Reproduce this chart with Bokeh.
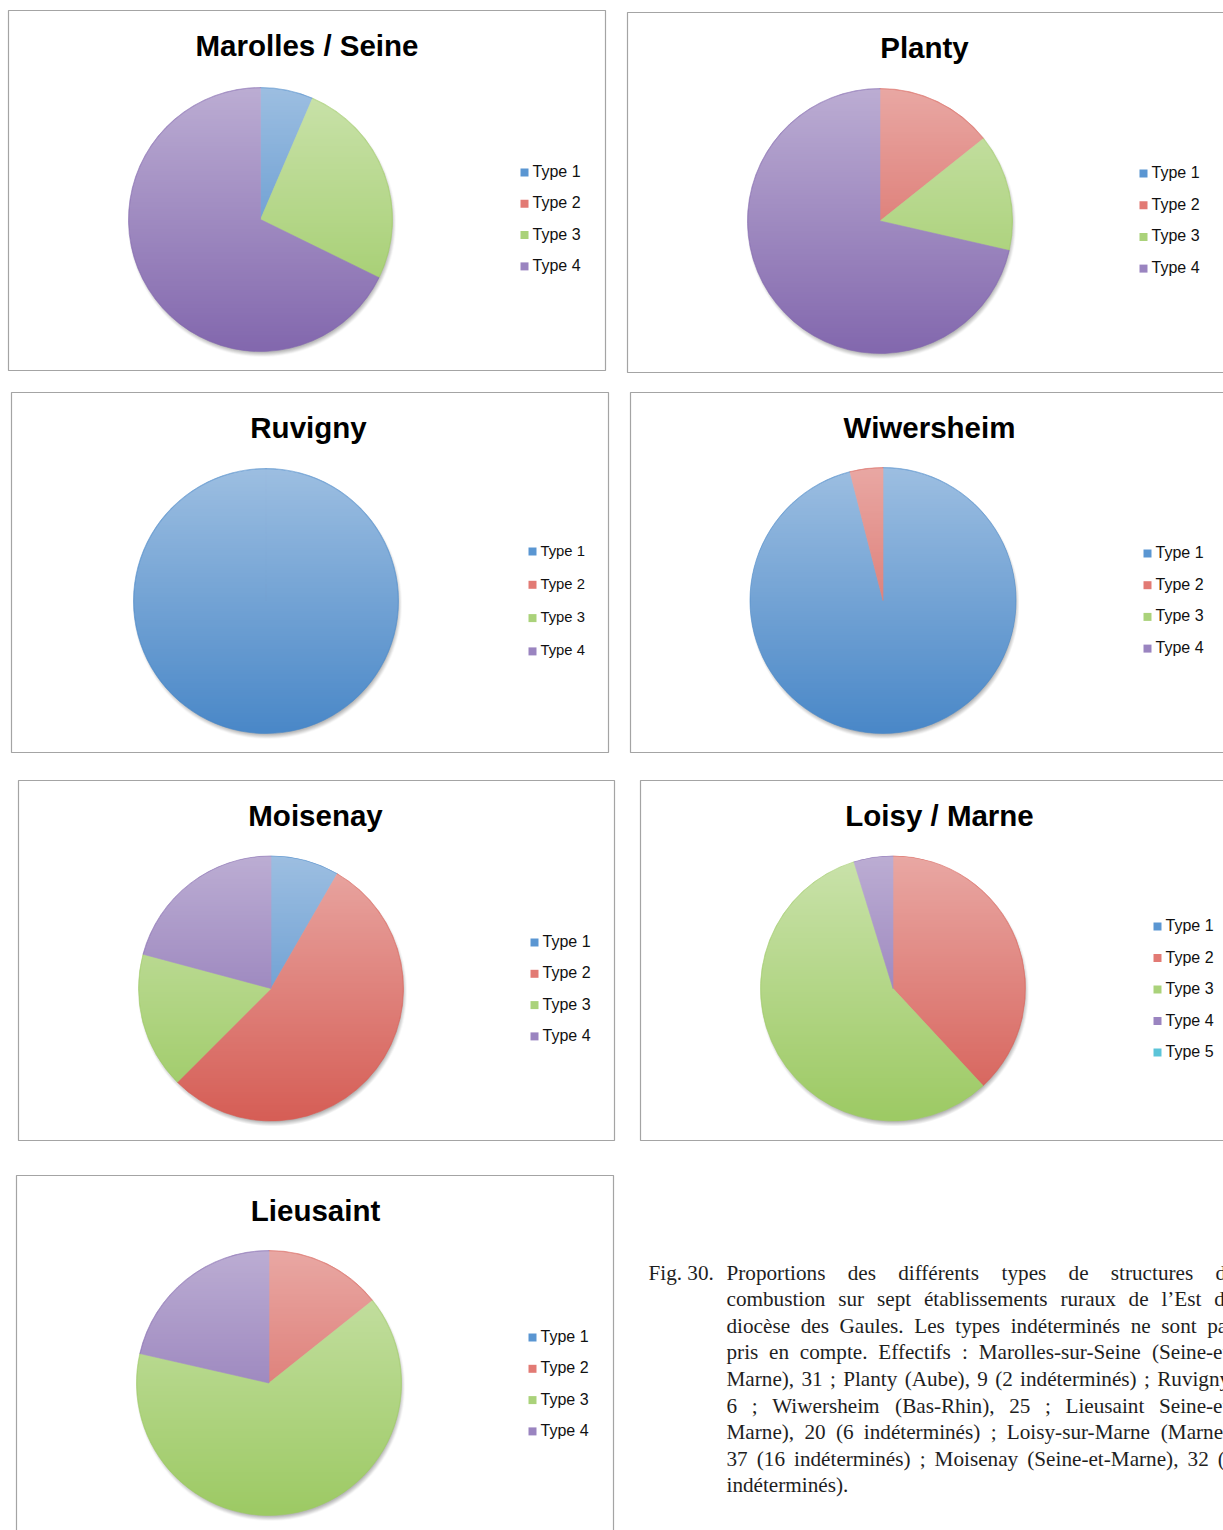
import numpy as np
from bokeh.plotting import figure
from bokeh.models import Range1d
from bokeh.core.properties import value
from bokeh.embed import file_html
from bokeh.resources import INLINE

# ---------------- data ----------------
sites = ["Marolles / Seine", "Planty", "Ruvigny", "Wiwersheim",
         "Moisenay", "Loisy / Marne", "Lieusaint"]
types4 = ["Type 1", "Type 2", "Type 3", "Type 4"]
types5 = ["Type 1", "Type 2", "Type 3", "Type 4", "Type 5"]
marolles = [2, 0, 8, 21]
planty = [0, 1, 1, 5]
ruvigny = [6, 0, 0, 0]
wiwersheim = [24, 1, 0, 0]
moisenay = [2, 13, 4, 5]
loisy = [0, 8, 12, 1, 0]
lieusaint = [0, 2, 9, 3]

caption_label = "Fig. 30."
caption_lines = [
    "Proportions des différents types de structures de",
    "combustion sur sept établissements ruraux de l’Est du",
    "diocèse des Gaules. Les types indéterminés ne sont pas",
    "pris en compte. Effectifs : Marolles-sur-Seine (Seine-et-",
    "Marne), 31 ; Planty (Aube), 9 (2 indéterminés) ; Ruvigny,",
    "6 ; Wiwersheim (Bas-Rhin), 25 ; Lieusaint Seine-et-",
    "Marne), 20 (6 indéterminés) ; Loisy-sur-Marne (Marne),",
    "37 (16 indéterminés) ; Moisenay (Seine-et-Marne), 32 (8",
    "indéterminés).",
]

# ---------------- styling / layout ----------------
base_rgb = [(74, 136, 200), (214, 94, 86), (157, 202, 100), (131, 104, 174), (75, 180, 205)]
legend_cols = ["#5A96D2", "#E27A74", "#AAD27A", "#9A84C0", "#5CC4D8"]

panels = [
    dict(title=sites[0], vals=marolles, labels=types4, box=(8, 10, 605, 370), c=(260, 219), r=132,
         tpos=(306.5, 45), leg=(524, 532, 172, 31.3, 16)),
    dict(title=sites[1], vals=planty, labels=types4, box=(627, 12, 1300, 372), c=(879.5, 220.5), r=132.5,
         tpos=(924, 47), leg=(1143, 1151, 173, 31.7, 16)),
    dict(title=sites[2], vals=ruvigny, labels=types4, box=(11, 392, 608, 752), c=(265.5, 600.5), r=132.5,
         tpos=(308, 427), leg=(532, 540, 551, 33.3, 14.8)),
    dict(title=sites[3], vals=wiwersheim, labels=types4, box=(630, 392, 1300, 752), c=(882.5, 600), r=133,
         tpos=(929, 427), leg=(1147, 1155, 553, 31.7, 16)),
    dict(title=sites[4], vals=moisenay, labels=types4, box=(18, 780, 614, 1140), c=(270.5, 988), r=132.5,
         tpos=(315, 815), leg=(534, 542, 942, 31.3, 16)),
    dict(title=sites[5], vals=loisy, labels=types5, box=(640, 780, 1300, 1140), c=(892.5, 988), r=132.5,
         tpos=(939, 815), leg=(1157, 1165, 926, 31.5, 16)),
    dict(title=sites[6], vals=lieusaint, labels=types4, box=(16, 1175, 613, 1600), c=(268.5, 1382.5), r=132.5,
         tpos=(315, 1210), leg=(532, 540, 1337, 31.3, 16)),
]

W, H = 1223, 1530
p = figure(width=W, height=H, output_backend="svg", toolbar_location=None,
           x_range=Range1d(0, W), y_range=Range1d(-H, 0),
           x_axis_location=None, y_axis_location=None, min_border=0)
p.grid.visible = False
p.outline_line_color = None
p.background_fill_color = "white"


def Y(py):
    return -py


def rgba_image(n, func):
    img = np.zeros((n, n), dtype=np.uint32)
    view = img.view(dtype=np.uint8).reshape((n, n, 4))
    r, g, b, a = func
    view[..., 0] = r
    view[..., 1] = g
    view[..., 2] = b
    view[..., 3] = np.clip(a * 255, 0, 255).astype(np.uint8)
    return img


for pn in panels:
    l, t, rr, b = pn["box"]
    p.quad(left=[l], right=[rr], top=[Y(t)], bottom=[Y(b)], fill_color=None,
           line_color="#A4A4A4", line_width=1.2)
    tx, ty = pn["tpos"]
    p.text(x=[tx], y=[Y(ty)], text=[pn["title"]], text_font=value("Liberation Sans"),
           text_font_style="bold", text_font_size="29.5px", text_align="center",
           text_baseline="middle", text_color="#000000")

    cx, cy = pn["c"]
    R = pn["r"]
    pad = 10
    n = int(round(2 * R + 2 * pad))
    x0 = cx - R - pad
    ytop = cy - R - pad
    jj = np.arange(n) + 0.5
    px = x0 + jj[None, :]
    py = (ytop + n) - jj[:, None]
    # soft shadow
    d2 = np.hypot(px - (cx + 1.5), py - (cy + 3.5))
    sh_a = 0.42 * np.clip((R + 2 - d2) / 5.0, 0, 1)
    sh = rgba_image(n, (80, 80, 80, sh_a))
    p.image_rgba(image=[sh], x=x0, y=Y(ytop + n), dw=n, dh=n)

    vals = np.array(pn["vals"], dtype=float)
    frac = vals / vals.sum()
    cum = np.concatenate([[0], np.cumsum(frac)])
    starts, ends, cols = [], [], []
    for i, f in enumerate(frac):
        if f <= 0:
            continue
        e = np.pi / 2 - 2 * np.pi * cum[i]
        s = np.pi / 2 - 2 * np.pi * cum[i + 1]
        if f >= 1:
            s = e - 2 * np.pi + 1e-4
        starts.append(s)
        ends.append(e)
        cols.append("#%02X%02X%02X" % base_rgb[i])
    p.wedge(x=[cx] * len(starts), y=[Y(cy)] * len(starts), radius=R,
            start_angle=starts, end_angle=ends, fill_color=cols,
            line_color=cols, line_width=0.6)

    # vertical light gradient overlay
    d = np.hypot(px - cx, py - cy)
    inside = np.clip(R - 0.3 - d + 0.5, 0, 1)
    grad = np.clip((cy + R - py) / (2 * R), 0, 1)
    ov = rgba_image(n, (255, 255, 255, inside * 0.46 * grad))
    p.image_rgba(image=[ov], x=x0, y=Y(ytop + n), dw=n, dh=n)

    sqx, ltx, ly0, ldy, lfs = pn["leg"]
    ys = [ly0 + k * ldy for k in range(len(pn["labels"]))]
    p.rect(x=[sqx] * len(ys), y=[Y(v) for v in ys], width=8, height=8,
           fill_color=legend_cols[:len(ys)], line_color=None)
    p.text(x=[ltx] * len(ys), y=[Y(v - 1.0) for v in ys], text=pn["labels"],
           text_font=value("Liberation Sans"), text_font_size="%.1fpx" % lfs,
           text_baseline="middle", text_align="left", text_color="#111111")

# ---------------- caption (justified, Times-metric widths) ----------------
tw = {' ': 250, '!': 333, '(': 333, ')': 333, ',': 250, '-': 333, '.': 250, ':': 278, ';': 278,
      '’': 333, "'": 333}
for ch in "0123456789":
    tw[ch] = 500
tw.update(dict(zip("ABCDEFGHIJKLMNOPQRSTUVWXYZ",
                   [722, 667, 667, 722, 611, 556, 722, 722, 333, 389, 722, 611, 889, 722, 722,
                    556, 722, 667, 556, 611, 722, 722, 944, 722, 722, 611])))
tw.update(dict(zip("abcdefghijklmnopqrstuvwxyz",
                   [444, 500, 444, 500, 444, 333, 500, 500, 278, 278, 500, 278, 778, 500, 500,
                    500, 500, 333, 389, 278, 500, 500, 722, 500, 500, 444])))
tw.update({'é': 444, 'è': 444})

cap_font = value("Liberation Serif")
fs = 21.2
x_left, x_right = 726, 1235
y0c, dline = 1272, 26.6


def wwidth(w):
    return sum(tw.get(ch, 500) for ch in w) * fs / 1000.0


p.text(x=[648], y=[Y(y0c)], text=[caption_label], text_font=cap_font,
       text_font_size="%.1fpx" % fs, text_baseline="middle", text_color="#1E1E1E")
for i, line in enumerate(caption_lines):
    yc = Y(y0c + i * dline)
    words = line.split(" ")
    widths = [wwidth(w) for w in words]
    if i < len(caption_lines) - 1 and len(words) > 1:
        gap = (x_right - x_left - sum(widths)) / (len(words) - 1)
    else:
        gap = tw[' '] * fs / 1000.0
    xs, x = [], x_left
    for w, ww in zip(words, widths):
        xs.append(x)
        x += ww + gap
    p.text(x=xs, y=[yc] * len(words), text=words, text_font=cap_font,
           text_font_size="%.1fpx" % fs, text_baseline="middle", text_color="#1E1E1E")

open("out.html", "w").write(file_html(p, INLINE))
